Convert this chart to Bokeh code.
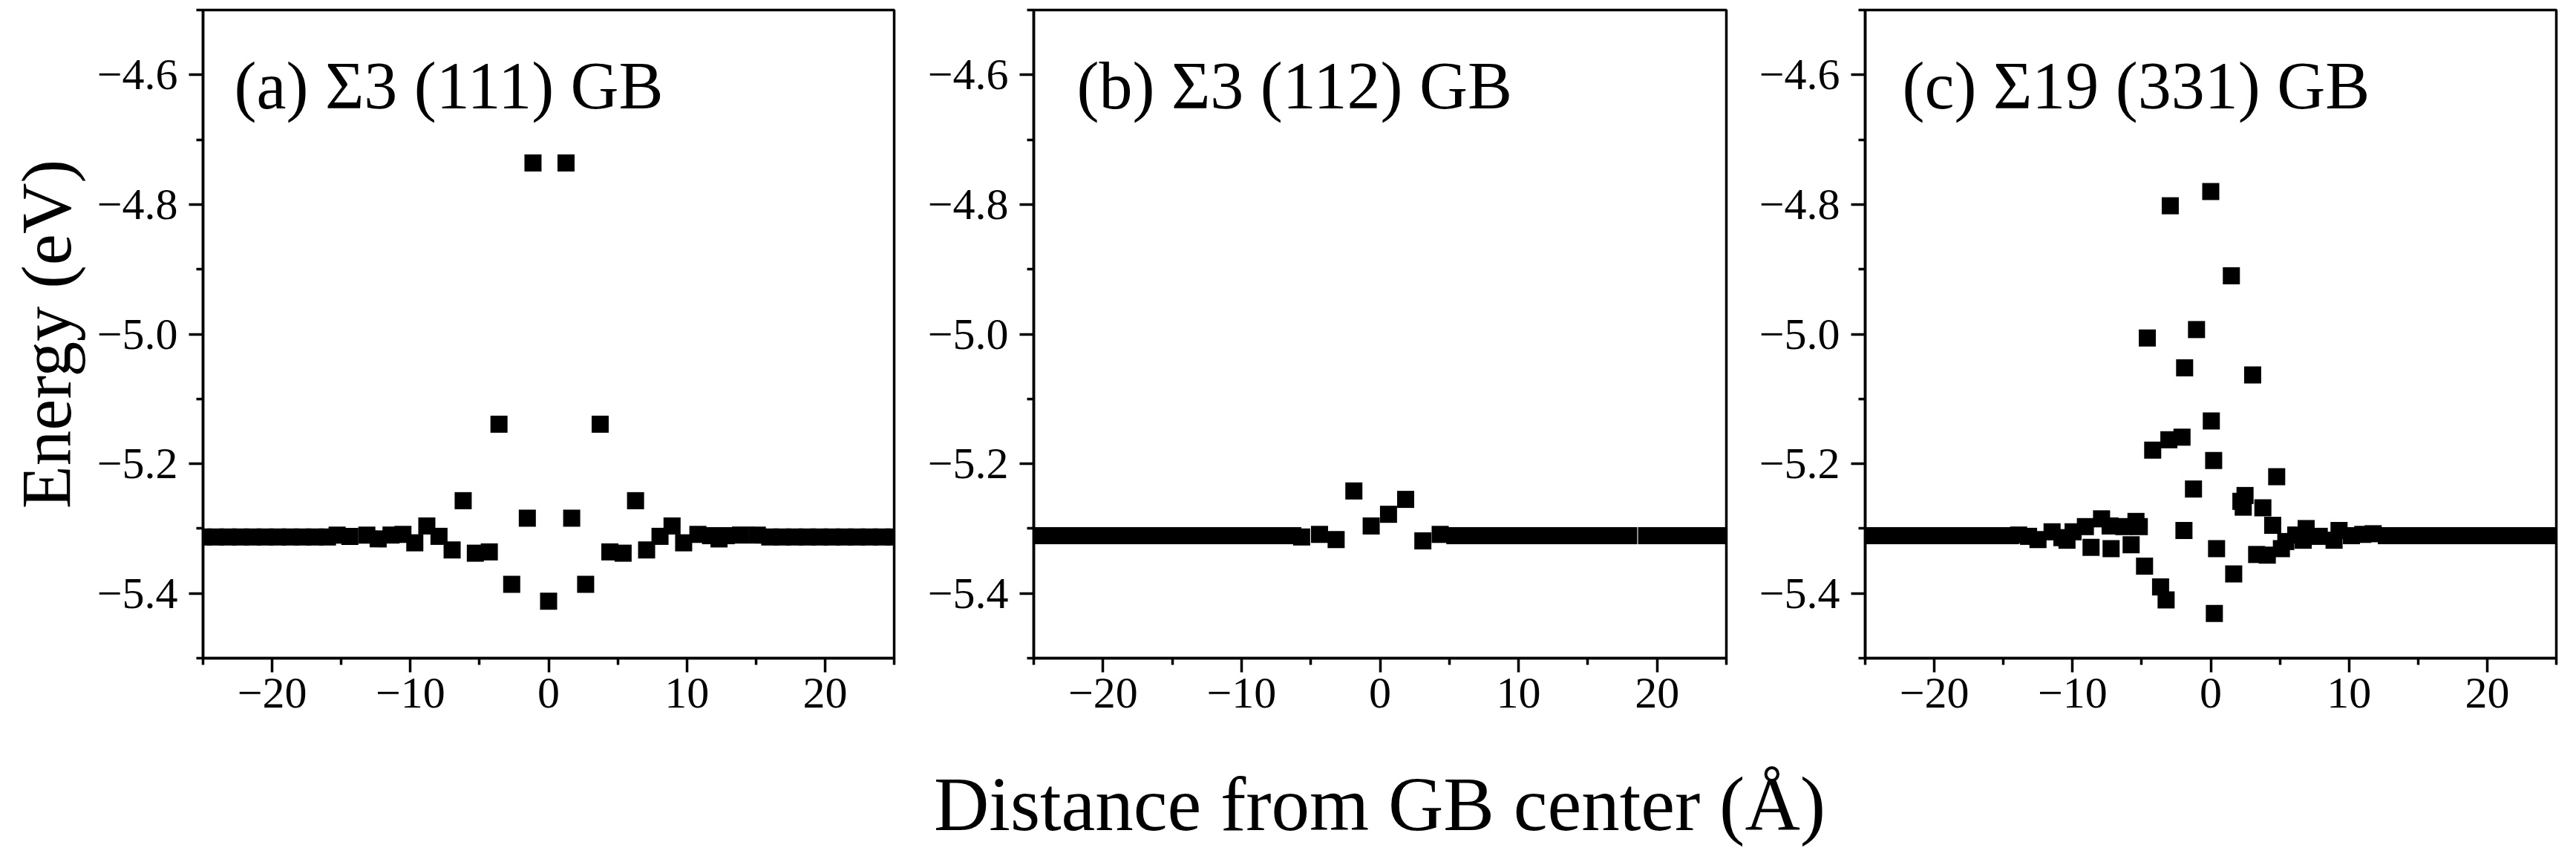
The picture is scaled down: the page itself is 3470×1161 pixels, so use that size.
from bokeh.plotting import figure
from bokeh.models import Range1d, FixedTicker, Label
from bokeh.layouts import row, column
from bokeh.embed import file_html
from bokeh.resources import INLINE

FONT = "Liberation Serif"

# ---- axis ticks / labels ----
x_major = [-20, -10, 0, 10, 20]
x_minor = [-25, -15, -5, 5, 15, 25]
x_labels = ["\u221220", "\u221210", "0", "10", "20"]
y_major = [-5.4, -5.2, -5.0, -4.8, -4.6]
y_minor = [-5.5, -5.3, -5.1, -4.9, -4.7, -4.5]
y_labels = ["\u22125.4", "\u22125.2", "\u22125.0", "\u22124.8", "\u22124.6"]

titles = ["(a) \u03a33 (111) GB", "(b) \u03a33 (112) GB", "(c) \u03a319 (331) GB"]
x_title = "Distance from GB center (\u00c5)"
y_title = "Energy (eV)"

# ---- panel (a): Sigma3 (111) ----
a_x = [-25.0, -24.1, -23.2, -22.3, -21.4, -20.5, -19.6, -18.7, -17.8, -16.9, -16.0,
       -15.3, -14.38, -13.15, -12.33, -11.40, -10.54, -9.68, -8.81, -7.93, -6.98,
       -6.18, -5.30, -4.29, -3.59, -2.67, -1.54, -1.13, 0.0, 1.26, 1.67,
       2.68, 3.73, 4.43, 5.39, 6.29, 7.09, 8.06, 8.93, 9.77, 10.8,
       11.72, 12.33, 12.85, 13.88, 15.1,
       16.0, 16.9, 17.8, 18.7, 19.6, 20.5, 21.4, 22.3, 23.2, 24.1, 25.0]
a_y = [-5.313, -5.313, -5.313, -5.313, -5.313, -5.313, -5.313, -5.313, -5.313, -5.313, -5.313,
       -5.310, -5.312, -5.310, -5.316, -5.310, -5.309, -5.322, -5.296, -5.312, -5.333,
       -5.257, -5.338, -5.336, -5.139, -5.386, -5.284, -4.736, -5.412, -4.736, -5.284,
       -5.386, -5.139, -5.336, -5.338, -5.257, -5.333, -5.312, -5.296, -5.322, -5.309,
       -5.311, -5.316, -5.311, -5.310, -5.310,
       -5.313, -5.313, -5.313, -5.313, -5.313, -5.313, -5.313, -5.313, -5.313, -5.313, -5.313]

# ---- panel (b): Sigma3 (112) ----
b_x = [-25.0, -24.0, -23.0, -22.0, -21.0, -20.0, -19.0, -18.0, -17.0, -16.0, -15.0,
       -14.0, -13.0, -12.0, -11.0, -10.0, -9.0, -8.0, -7.0, -6.3, -5.66,
       -4.37, -3.17, -1.89, -0.64, 0.61, 1.85, 3.09, 4.34, 5.4, 6.4,
       7.4, 8.4, 9.4, 10.4, 11.4, 12.4, 13.4, 14.4, 15.4, 16.4,
       17.2, 17.95, 19.24, 20.2, 21.2, 22.2, 23.2, 24.2, 25.0]
b_y = [-5.311, -5.311, -5.311, -5.311, -5.311, -5.311, -5.311, -5.311, -5.311, -5.311, -5.311,
       -5.311, -5.311, -5.311, -5.311, -5.311, -5.311, -5.311, -5.311, -5.311, -5.313,
       -5.309, -5.317, -5.242, -5.296, -5.278, -5.255, -5.319, -5.309, -5.311, -5.311,
       -5.311, -5.311, -5.311, -5.311, -5.311, -5.311, -5.311, -5.311, -5.311, -5.311,
       -5.311, -5.311, -5.311, -5.311, -5.311, -5.311, -5.311, -5.311, -5.311]

# ---- panel (c): Sigma19 (331) ----
c_x = [-25.0, -24.0, -23.0, -22.0, -21.0, -20.0, -19.0, -18.0, -17.0, -16.0, -15.0,
       -14.5, -13.9, -13.18, -12.5, -11.48, -10.77, -10.4, -9.96, -9.07, -8.66,
       -7.90, -7.28, -7.21, -6.29, -5.76, -5.41, -5.17, -4.79, -4.59, -4.20,
       -3.63, -3.23, -3.03, -2.93, -2.08, -1.94, -1.89, -1.25, -1.03, 0.0,
       0.04, 0.21, 0.26, 0.42, 1.49, 1.66, 2.18, 2.35, 2.48, 3.03,
       3.32, 3.77, 4.09, 4.48, 4.77, 5.11, 5.43, 6.15, 6.69, 6.90,
       7.85, 8.92, 9.28, 10.18, 11.0, 11.75, 12.7, 13.6, 14.5, 15.4,
       16.3, 17.2, 18.1, 19.0, 19.9, 20.8, 21.7, 22.6, 23.5, 24.4, 25.0]
c_y = [-5.311, -5.311, -5.311, -5.311, -5.311, -5.311, -5.311, -5.311, -5.311, -5.311, -5.311,
       -5.311, -5.310, -5.312, -5.317, -5.305, -5.314, -5.318, -5.305, -5.297, -5.329,
       -5.285, -5.296, -5.331, -5.297, -5.325, -5.289, -5.297, -5.358, -5.006, -5.179,
       -5.390, -5.410, -5.163, -4.802, -5.159, -5.303, -5.052, -5.239, -4.993, -4.780,
       -5.134, -5.195, -5.431, -5.331, -4.910, -5.370, -5.258, -5.267, -5.249, -5.063,
       -5.340, -5.268, -5.341, -5.295, -5.220, -5.331, -5.320, -5.310, -5.318, -5.300,
       -5.312, -5.318, -5.303, -5.311, -5.309, -5.308, -5.311, -5.311, -5.311, -5.311,
       -5.311, -5.311, -5.311, -5.311, -5.311, -5.311, -5.311, -5.311, -5.311, -5.311, -5.311]

assert len(a_x) == len(a_y) and len(b_x) == len(b_y) and len(c_x) == len(c_y)


def make_panel(xs, ys, title, tx, width, bl, br, ylabel=None):
    p = figure(width=width, height=1000,
               x_range=Range1d(-25, 25), y_range=Range1d(-5.5, -4.5),
               output_backend="svg", toolbar_location=None,
               min_border_left=bl, min_border_right=br,
               min_border_top=13, min_border_bottom=114)
    p.grid.visible = False
    p.background_fill_color = "white"
    p.border_fill_color = "white"
    p.outline_line_color = "black"
    p.outline_line_width = 3.5
    p.outline_line_alpha = 1.0
    p.scatter(xs, ys, marker="square", size=23, fill_color="black", line_color=None)
    for ax in (p.xaxis[0], p.yaxis[0]):
        ax.axis_line_width = 3.5
        ax.axis_line_color = "black"
        ax.major_tick_line_width = 3.5
        ax.minor_tick_line_width = 3.5
        ax.major_tick_line_color = "black"
        ax.minor_tick_line_color = "black"
        ax.major_tick_in = 0
        ax.major_tick_out = 19
        ax.minor_tick_in = 0
        ax.minor_tick_out = 9
        ax.major_label_text_font = FONT
        ax.major_label_text_font_size = "60px"
        ax.major_label_text_color = "black"
    p.xaxis.ticker = FixedTicker(ticks=x_major, minor_ticks=x_minor)
    p.xaxis.major_label_overrides = dict(zip(x_major, x_labels))
    p.xaxis.major_label_standoff = 8
    p.yaxis.ticker = FixedTicker(ticks=y_major, minor_ticks=y_minor)
    p.yaxis.major_label_overrides = dict(zip(y_major, y_labels))
    p.yaxis.major_label_standoff = 15
    if ylabel:
        p.yaxis.axis_label = ylabel
        p.yaxis.axis_label_text_font = FONT
        p.yaxis.axis_label_text_font_size = "95px"
        p.yaxis.axis_label_text_font_style = "normal"
        p.yaxis.axis_label_text_color = "black"
        p.yaxis.axis_label_standoff = 12
    p.add_layout(Label(x=tx, y=-4.617, text=title, text_font=FONT,
                       text_font_size="90px", text_color="black",
                       text_align="left", text_baseline="alphabetic"))
    return p


pa = make_panel(a_x, a_y, titles[0], -22.74, 1232, 273, 28, ylabel=y_title)
pb = make_panel(b_x, b_y, titles[1], -21.89, 1120, 160, 27)
pc = make_panel(c_x, c_y, titles[2], -22.31, 1102, 160, 11)

pl = figure(width=3454, height=145, x_range=Range1d(0, 3454), y_range=Range1d(0, 145),
            output_backend="svg", toolbar_location=None,
            x_axis_location=None, y_axis_location=None,
            min_border_left=0, min_border_right=0, min_border_top=0, min_border_bottom=0)
pl.grid.visible = False
pl.outline_line_color = None
pl.add_layout(Label(x=1858, y=63, text=x_title, text_font=FONT, text_font_size="103px",
                    text_color="black", text_align="center", text_baseline="alphabetic"))

layout = column(row(pa, pb, pc), pl)
open("out.html", "w").write(file_html(layout, INLINE))
